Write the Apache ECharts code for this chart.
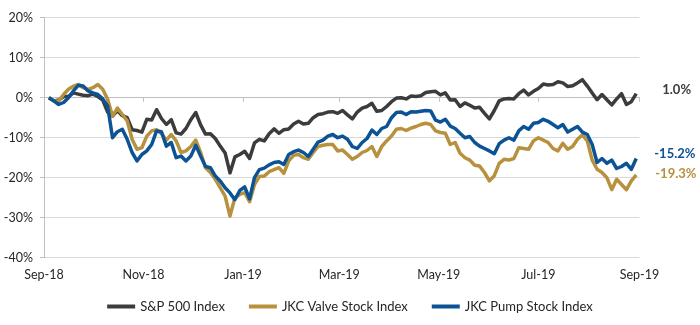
<!DOCTYPE html>
<html>
<head>
<meta charset="utf-8">
<script src="https://cdn.jsdelivr.net/npm/echarts@6/dist/echarts.min.js"></script>
<style>
  html, body { margin: 0; padding: 0; background: #fff; }
  #chart { width: 700px; height: 325px; }
</style>
</head>
<body>
<div id="chart"></div>
<script>
// Trading-day sample dates (every third calendar day), Sep 2018 – Aug 2019
const dates = [
  '2018-09-04','2018-09-07','2018-09-10','2018-09-13','2018-09-16','2018-09-19','2018-09-22','2018-09-25','2018-09-28',
  '2018-10-01','2018-10-04','2018-10-07','2018-10-10','2018-10-13','2018-10-16','2018-10-19','2018-10-22','2018-10-25','2018-10-28','2018-10-31',
  '2018-11-03','2018-11-06','2018-11-09','2018-11-12','2018-11-15','2018-11-18','2018-11-21','2018-11-24','2018-11-27','2018-11-30',
  '2018-12-03','2018-12-06','2018-12-09','2018-12-12','2018-12-15','2018-12-18','2018-12-21','2018-12-24','2018-12-27','2018-12-30',
  '2019-01-02','2019-01-05','2019-01-08','2019-01-11','2019-01-14','2019-01-17','2019-01-20','2019-01-23','2019-01-26','2019-01-29',
  '2019-02-01','2019-02-04','2019-02-07','2019-02-10','2019-02-13','2019-02-16','2019-02-19','2019-02-22','2019-02-25','2019-02-28',
  '2019-03-03','2019-03-06','2019-03-09','2019-03-12','2019-03-15','2019-03-18','2019-03-21','2019-03-24','2019-03-27','2019-03-30',
  '2019-04-02','2019-04-05','2019-04-08','2019-04-11','2019-04-14','2019-04-17','2019-04-20','2019-04-23','2019-04-26','2019-04-29',
  '2019-05-02','2019-05-05','2019-05-08','2019-05-11','2019-05-14','2019-05-17','2019-05-20','2019-05-23','2019-05-26','2019-05-29',
  '2019-06-01','2019-06-04','2019-06-07','2019-06-10','2019-06-13','2019-06-16','2019-06-19','2019-06-22','2019-06-25','2019-06-28',
  '2019-07-01','2019-07-04','2019-07-07','2019-07-10','2019-07-13','2019-07-16','2019-07-19','2019-07-22','2019-07-25','2019-07-28','2019-07-31',
  '2019-08-03','2019-08-06','2019-08-09','2019-08-12','2019-08-15','2019-08-18','2019-08-21','2019-08-24','2019-08-27','2019-08-30'
];

// Cumulative change since 4 Sep 2018, in percent
const sp500 = [
  0, -0.8, -0.6, 0.3, 0.3, 1.2, 0.9, 0.6, 0.5,
  0.9, 0.3, -0.6, -3.6, -4.6, -3.2, -4.5, -5.0, -8.0, -8.2, -8.6,
  -5.4, -5.6, -3.0, -5.2, -6.7, -5.5, -8.8, -9.1, -7.7, -5.5,
  -3.7, -6.8, -9.1, -9.0, -10.2, -12.1, -13.8, -18.8, -14.8, -14.2,
  -13.4, -15.2, -11.3, -10.4, -10.8, -9.0, -7.8, -8.9, -8.0, -7.8,
  -6.6, -5.9, -6.6, -6.4, -5.0, -4.2, -4.0, -3.6, -3.5, -3.9,
  -3.2, -4.3, -5.3, -3.6, -2.6, -2.2, -1.4, -3.4, -3.2, -2.2,
  -1.0, -0.1, 0.0, -0.3, 0.4, 0.3, 0.5, 1.3, 1.5, 1.6,
  0.7, 1.2, -0.6, -0.5, -2.2, -1.3, -1.9, -2.6, -2.4, -3.9,
  -5.3, -3.2, -0.8, -0.3, -0.2, -0.3, 1.0, 1.9, 0.7, 1.6,
  2.3, 3.4, 3.2, 3.3, 4.0, 3.7, 2.8, 3.0, 3.7, 4.5, 2.9,
  1.2, -0.5, 0.8, -0.5, -1.8, -0.3, 1.0, -1.7, -1.0, 1.0
];
const valve = [
  0, -0.8, -0.8, 0.8, 2.1, 2.9, 3.3, 2.5, 2.1,
  2.5, 3.3, 2.1, -0.4, -4.6, -2.6, -4.2, -5.8, -10.4, -12.9, -12.5,
  -9.6, -8.3, -8.0, -9.0, -10.6, -9.2, -10.8, -13.7, -13.3, -12.2,
  -10.6, -13.7, -17.5, -18.7, -20.4, -22.5, -24.6, -29.6, -25.0, -24.2,
  -23.7, -26.0, -21.7, -19.7, -19.6, -18.5, -18.0, -17.5, -18.9, -15.8,
  -14.4, -14.2, -15.0, -15.4, -13.7, -12.2, -11.9, -11.7, -11.7, -13.3,
  -13.1, -14.2, -15.4, -14.7, -13.7, -13.2, -12.2, -14.7, -12.2, -10.8,
  -9.6, -7.9, -7.7, -8.2, -7.6, -7.2, -6.7, -6.4, -6.7, -8.3,
  -8.7, -8.9, -11.7, -11.2, -13.9, -15.0, -15.6, -16.9, -17.1, -18.7,
  -20.8, -19.5, -16.4, -15.4, -15.6, -15.2, -12.5, -12.7, -12.9, -10.8,
  -10.0, -10.6, -11.2, -12.7, -13.3, -11.4, -12.9, -12.2, -10.4, -9.3, -10.8,
  -15.6, -17.9, -18.7, -20.0, -23.0, -20.4, -21.7, -23.0, -20.8, -19.3
];
const pump = [
  0, -0.8, -1.7, -1.2, 0, 1.7, 3.1, 2.9, 1.7,
  1.2, 0.8, -0.3, -2.1, -10.0, -8.5, -7.9, -10.4, -13.7, -15.8, -14.2,
  -13.3, -11.7, -8.3, -8.5, -12.1, -11.2, -15.0, -14.6, -15.8, -14.6,
  -11.9, -14.6, -17.2, -17.5, -19.6, -20.8, -22.5, -23.8, -25.5, -23.2,
  -22.3, -25.3, -20.0, -18.0, -17.6, -16.8, -16.2, -16.0, -16.7, -14.2,
  -13.5, -13.1, -13.7, -14.7, -12.9, -11.1, -10.6, -9.6, -9.2, -10.0,
  -9.6, -10.4, -12.2, -12.7, -11.2, -10.2, -8.1, -9.2, -7.7, -7.2,
  -5.0, -3.7, -3.6, -4.2, -3.5, -3.6, -3.4, -3.2, -3.3, -5.6,
  -6.1, -5.4, -7.1, -7.7, -8.9, -10.0, -9.7, -11.2, -12.1, -12.7,
  -13.3, -14.0, -11.5, -10.6, -10.0, -10.6, -8.3, -7.2, -7.9, -6.4,
  -6.2, -5.4, -5.9, -6.7, -7.5, -6.7, -8.6, -7.9, -7.2, -8.6, -9.2,
  -11.7, -16.2, -15.2, -16.4, -15.6, -17.7, -17.2, -16.4, -17.9, -15.2
];

const seriesNames = ['S&P 500 Index', 'JKC Valve Stock Index', 'JKC Pump Stock Index'];
const seriesColors = ['#3c3c3c', '#b8913f', '#0b5394'];
const tickMonths = ['2018-09-01', '2018-11-01', '2019-01-01', '2019-03-01', '2019-05-01', '2019-07-01', '2019-09-01'];
const monthNames = ['Jan','Feb','Mar','Apr','May','Jun','Jul','Aug','Sep','Oct','Nov','Dec'];

const FONT = 'Lato, "Open Sans", sans-serif';
const toTime = s => new Date(s + 'T00:00:00Z').getTime();
const tickTimes = tickMonths.map(toTime);
const pairs = vals => vals.map((v, i) => [toTime(dates[i]), v]);

const endOffsets = [[18, -4], [11, -1], [10, -5]];

const chart = echarts.init(document.getElementById('chart'), null, { renderer: 'canvas' });
chart.setOption({
  animation: false,
  textStyle: { fontFamily: FONT },
  grid: { left: 44, right: 60.5, top: 17.7, bottom: 67.3, containLabel: false },
  legend: {
    bottom: 7,
    left: 'center',
    icon: 'rect',
    itemWidth: 28,
    itemHeight: 4,
    itemGap: 24,
    textStyle: { fontSize: 13, color: '#262626', fontFamily: FONT },
    data: seriesNames
  },
  xAxis: {
    type: 'value',
    min: tickTimes[0],
    max: tickTimes[tickTimes.length - 1],
    splitLine: { show: false },
    axisLine: { show: true, lineStyle: { color: '#bfbfbf', width: 1 } },
    axisTick: { show: true, customValues: tickTimes, length: 4, lineStyle: { color: '#bfbfbf' } },
    axisLabel: {
      customValues: tickTimes,
      margin: 11,
      fontSize: 12.5,
      color: '#262626',
      fontFamily: FONT,
      formatter: v => {
        const d = new Date(v);
        return monthNames[d.getUTCMonth()] + '-' + String(d.getUTCFullYear()).slice(2);
      }
    }
  },
  yAxis: {
    type: 'value',
    min: -40,
    max: 20,
    interval: 10,
    axisLine: { show: true, lineStyle: { color: '#bfbfbf', width: 1 } },
    axisTick: { show: true, length: 4, lineStyle: { color: '#bfbfbf' } },
    splitLine: { show: true, lineStyle: { color: '#d9d9d9', width: 1 } },
    axisLabel: {
      margin: 11,
      fontSize: 12.5,
      color: '#262626',
      fontFamily: FONT,
      formatter: '{value}%'
    }
  },
  series: [sp500, valve, pump].map((vals, i) => ({
    name: seriesNames[i],
    type: 'line',
    data: pairs(vals),
    showSymbol: false,
    symbol: 'none',
    color: seriesColors[i],
    lineStyle: { width: 3.5, color: seriesColors[i], join: 'round' },
    z: 2 + i,
    endLabel: {
      show: true,
      offset: endOffsets[i],
      fontSize: 13,
      fontWeight: 'bold',
      fontFamily: FONT,
      color: seriesColors[i],
      formatter: p => p.value[1].toFixed(1) + '%'
    }
  }))
});
</script>
</body>
</html>
